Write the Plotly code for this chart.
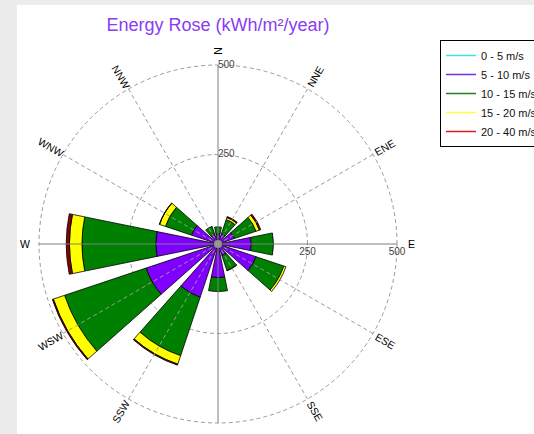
import numpy as np
import plotly.graph_objects as go

# ---------------- data ----------------
directions = ["N", "NNE", "ENE", "E", "ESE", "SSE", "S", "SSW", "WSW", "W", "WNW", "NNW"]
speed_bins = ["0 - 5 m/s", "5 - 10 m/s", "10 - 15 m/s", "15 - 20 m/s", "20 - 40 m/s"]
energy_0_5 = [4, 4, 4, 5, 5, 4, 5, 5, 6, 6, 4, 4]
energy_5_10 = [24, 26, 44, 88, 107, 30, 89, 152, 206, 168, 74, 24]
energy_10_15 = [20, 42, 64, 62, 82, 44, 39, 172, 240, 206, 77, 24]
energy_15_20 = [0, 6, 10, 0, 6, 1, 0, 25, 33, 35, 17, 0]
energy_20_40 = [0, 3, 4, 0, 0, 0, 0, 3, 3, 9, 1, 0]
radial_ticks = [250, 500]
title_text = "Energy Rose (kWh/m²/year)"

series = [energy_0_5, energy_5_10, energy_10_15, energy_15_20, energy_20_40]
bin_colors = ["#00e0e0", "#7f00ff", "#008000", "#ffff00", "#8b0000"]
legend_colors = ["#40e0e0", "#7030e0", "#208020", "#ffff40", "#d02020"]

# ---------------- geometry ----------------
W, H = 534, 434
cx, cy, R = 218, 244, 179          # R = pixel radius of the outer (500) ring
rmax = max(radial_ticks)
rrange = rmax * 1.04               # leave room so the outer dashed ring is drawn
Rd = R * rrange / rmax
dom_x = [(cx - Rd) / W, (cx + Rd) / W]
dom_y = [1 - (cy + Rd) / H, 1 - (cy - Rd) / H]
n = len(directions)
angles = [i * 360 / n for i in range(n)]
sector_width = 23

font_family = "Liberation Sans, Arial, sans-serif"
fig = go.Figure()

for name, vals, col in zip(speed_bins, series, bin_colors):
    fig.add_trace(go.Barpolar(
        r=vals, theta=angles, width=[sector_width] * n, name=name,
        marker=dict(color=col, line=dict(color="#000000", width=0.8)),
        showlegend=False, hoverinfo="skip"))

# axis cross lines (N-S and E-W)
axis_col = "#7f7f7f"
fig.add_trace(go.Scatterpolar(r=[rmax, 0, rmax], theta=[90, 0, 270], mode="lines",
                              line=dict(color=axis_col, width=1), showlegend=False, hoverinfo="skip"))
fig.add_trace(go.Scatterpolar(r=[rmax, 0, rmax], theta=[0, 0, 180], mode="lines",
                              line=dict(color=axis_col, width=1), showlegend=False, hoverinfo="skip"))
# centre hub
fig.add_trace(go.Scatterpolar(r=[0], theta=[0], mode="markers",
                              marker=dict(size=8, color="#8c8c8c"), showlegend=False, hoverinfo="skip"))
# radial tick labels along north axis
fig.add_trace(go.Scatterpolar(r=radial_ticks, theta=[0] * len(radial_ticks), mode="text",
                              text=[str(t) for t in radial_ticks], textposition="middle right",
                              textfont=dict(size=10, color="#444444", family=font_family),
                              showlegend=False, hoverinfo="skip"))

# legend-only line entries
for name, col in zip(speed_bins, legend_colors):
    fig.add_trace(go.Scatterpolar(r=[None], theta=[None], mode="lines", name=name,
                                  line=dict(color=col, width=1.5), showlegend=True))

# rotated compass labels just outside the outer ring
label_r = 540
annotations = []
for d, a in zip(directions, angles):
    rad = np.deg2rad(a)
    rp = label_r / rmax * R
    ta = a - 90 if a <= 180 else a - 270
    annotations.append(dict(x=(cx + rp * np.sin(rad)) / W, y=1 - (cy - rp * np.cos(rad)) / H,
                            xref="paper", yref="paper", xanchor="center", yanchor="middle",
                            text=d, showarrow=False, textangle=ta,
                            font=dict(size=10.5, color="#000000", family=font_family)))

grid_col = "#9a9a9a"
fig.update_layout(
    width=W, height=H,
    margin=dict(l=0, r=0, t=0, b=0, autoexpand=False),
    paper_bgcolor="#ececec", plot_bgcolor="rgba(0,0,0,0)",
    font=dict(family=font_family),
    title=dict(text=title_text, x=cx / W, xanchor="center", y=1 - 25 / H, yanchor="middle",
               font=dict(size=18, color="#8a3cf0", family=font_family)),
    shapes=[dict(type="rect", xref="paper", yref="paper", x0=17 / W, x1=1, y0=0, y1=1 - 5 / H,
                 fillcolor="#ffffff", line=dict(width=0), layer="below")],
    polar=dict(
        domain=dict(x=dom_x, y=dom_y),
        bgcolor="rgba(0,0,0,0)",
        barmode="stack",
        angularaxis=dict(rotation=90, direction="clockwise", tickmode="array", tickvals=angles,
                         showticklabels=False, ticks="", showline=False, showgrid=False),
        radialaxis=dict(range=[0, rrange], tickmode="array", tickvals=radial_ticks, angle=0,
                        side="clockwise", showline=False, ticks="",
                        gridcolor=grid_col, griddash="4px,3px", gridwidth=1,
                        tickfont=dict(size=10, color="#444444", family=font_family),
                        layer="above traces"),
    ),
    legend=dict(x=440 / W, y=1 - 40 / H, xanchor="left", yanchor="top",
                bgcolor="#ffffff", bordercolor="#000000", borderwidth=1,
                font=dict(size=11, color="#111111", family=font_family),
                itemwidth=30, tracegroupgap=0),
    annotations=annotations,
)

# angular (spoke) grid lines, dashed, from centre to the outer ring
for a in angles:
    if a % 90 != 0:
        fig.add_trace(go.Scatterpolar(r=[0, rmax], theta=[a, a], mode="lines",
                                      line=dict(color=grid_col, width=1, dash="4px,3px"),
                                      showlegend=False, hoverinfo="skip"))

fig.write_html("out.html", config={"displayModeBar": False},
               post_script="document.body.style.margin='0px';")
